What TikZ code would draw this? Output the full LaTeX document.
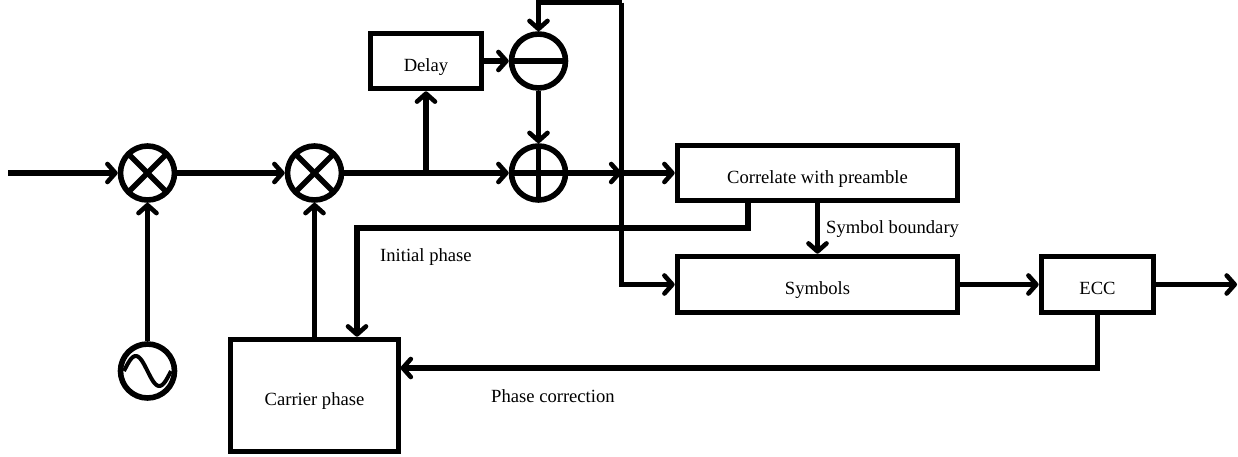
\documentclass[tikz,border=0pt]{standalone}
\usepackage{fontspec}
\setmainfont{Liberation Serif}
\usetikzlibrary{arrows.meta,calc}
\newcommand{\boxtext}[1]{\raisebox{-10pt}[0pt][0pt]{#1}}
\tikzset{
  wire/.style={line width=5.6pt,draw=black,line join=miter},
  arr/.style={wire,-{Straight Barb[round,length=8pt,width=18pt,line width=4.6pt]}},
  blockbox/.style={draw=black,line width=5.6pt,inner sep=0pt,fill=white,align=center},
  opcircle/.style={circle,draw=black,line width=5.6pt,inner sep=0pt,minimum size=54pt},
  mark line/.style={line width=5.4pt,shorten <=2.8pt,shorten >=2.8pt},
  free label/.style={anchor=base west,inner sep=0pt}
}
\begin{document}
\begin{tikzpicture}[x=1pt,y=-1pt,font=\fontsize{18.6}{20}\selectfont]
\useasboundingbox (0,0) rectangle (1238,456);
% blocks
\node[blockbox,minimum width=111pt,minimum height=55pt] (delay) at (426,61) {\boxtext{Delay}};
\node[blockbox,minimum width=280pt,minimum height=55pt] (corr) at (817.5,173) {\boxtext{Correlate with preamble}};
\node[blockbox,minimum width=280pt,minimum height=56pt] (sym) at (817.5,284.5) {\boxtext{Symbols}};
\node[blockbox,minimum width=112pt,minimum height=56pt] (ecc) at (1097.5,284.5) {\boxtext{ECC}};
\node[blockbox,minimum width=168pt,minimum height=112pt] (carrier) at (314.5,395.5) {\boxtext{Carrier phase}};
% operators
\node[opcircle] (mixa) at (147.5,173) {};
\node[opcircle] (mixb) at (314.5,173) {};
\node[opcircle] (sub) at (538.5,61) {};
\node[opcircle] (add) at (538.5,173) {};
\node[opcircle] (osc) at (147.5,371) {};
\draw[mark line] (mixa.north west) -- (mixa.south east);
\draw[mark line] (mixa.north east) -- (mixa.south west);
\draw[mark line] (mixb.north west) -- (mixb.south east);
\draw[mark line] (mixb.north east) -- (mixb.south west);
\draw[mark line] (sub.west) -- (sub.east);
\draw[mark line] (add.west) -- (add.east);
\draw[mark line] (add.north) -- (add.south);
\draw[line width=4pt] plot[domain=-23.5:23.5,samples=60,smooth] ({147.5+\x},{371-15*sin(\x*360/47+180)});
% helper coordinates
\coordinate (in) at (8,173);
\coordinate (out) at (1237,284.5);
\coordinate (branch) at (426,173);
\coordinate (junction) at (621.5,173);
\coordinate (topright) at (621.5,2.5);
\coordinate (topleft) at (538.5,2.5);
\coordinate (initfrom) at (748,203);
\coordinate (initcorner) at (748,228);
\coordinate (initdown) at (357,228);
\coordinate (fbfrom) at (1097.5,314);
\coordinate (fbcorner) at (1097.5,368);
\coordinate (fbto) at (400.5,368);
% connectors
\draw[arr] (in) -- (mixa.west);
\draw[arr] (mixa.east) -- (mixb.west);
\draw[arr] (osc.north) -- (mixa.south);
\draw[arr] (mixb.east) -- (add.west);
\draw[arr] (carrier.north) -- (mixb.south);
\draw[arr] (branch) -- (delay.south);
\draw[arr] (delay.east) -- (sub.west);
\draw[arr] (sub.south) -- (add.north);
\draw[arr] (add.east) -- (junction);
\draw[arr] (junction) -- (corr.west);
\draw[arr] (topright) -- (topleft) -- (sub.north);
\draw[arr] (topright) -- (junction |- sym.west) -- (sym.west);
\draw[arr] (corr.south) -- (sym.north);
\draw[arr] (sym.east) -- (ecc.west);
\draw[arr] (ecc.east) -- (out);
\draw[arr] (initfrom) -- (initcorner) -- (initdown) -- (initdown |- carrier.north);
\draw[arr] (fbfrom) -- (fbcorner) -- (fbto);
% labels
\node[free label] (lbound) at (826,233) {Symbol boundary};
\node[free label] (linit) at (380,261) {Initial phase};
\node[free label] (lphase) at (491,402) {Phase correction};
\end{tikzpicture}
\end{document}
